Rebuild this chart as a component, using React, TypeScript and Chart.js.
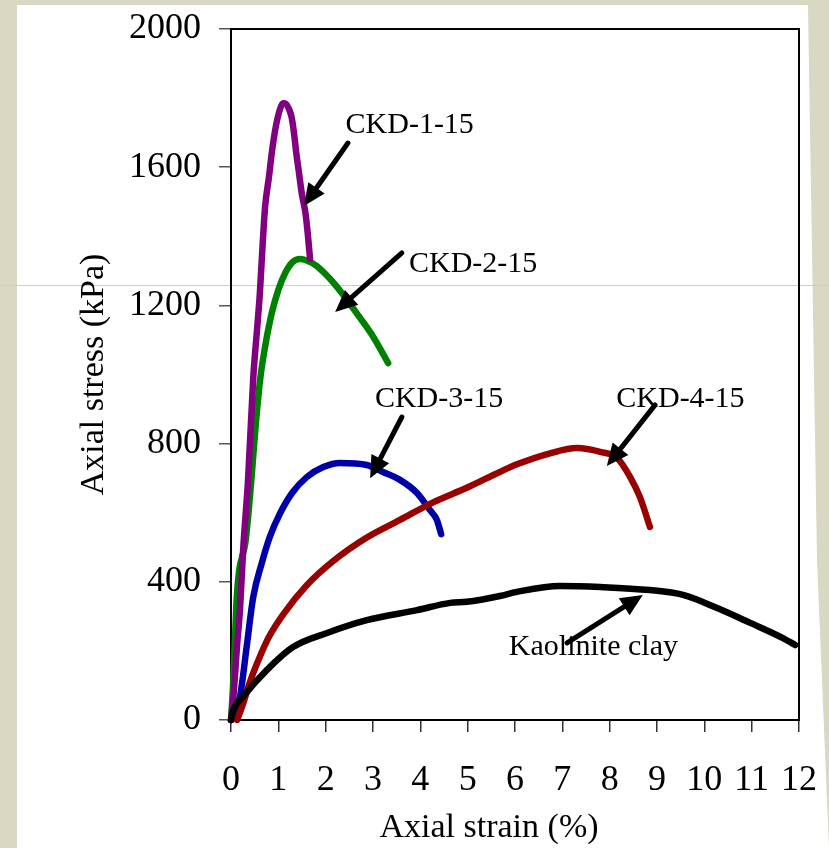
import React, { useEffect, useRef } from "react";
import { Chart, registerables } from "chart.js";

Chart.register(...registerables);

// ---- Data (strain %, stress kPa) ----
const ckd1Strain = [0, 0.04, 0.08, 0.13, 0.19, 0.26, 0.36, 0.47, 0.55, 0.61, 0.67, 0.72, 0.8, 0.87, 0.95, 1.04, 1.1, 1.16, 1.22, 1.28, 1.33, 1.38, 1.43, 1.5, 1.57, 1.62, 1.67];
const ckd1Stress = [0, 50, 120, 220, 320, 500, 695, 990, 1130, 1236, 1380, 1485, 1570, 1650, 1720, 1770, 1785, 1783, 1770, 1745, 1700, 1640, 1590, 1520, 1470, 1410, 1335];

const ckd2Strain = [0, 0.04, 0.08, 0.12, 0.17, 0.23, 0.3, 0.37, 0.43, 0.52, 0.62, 0.72, 0.86, 1.0, 1.15, 1.3, 1.46, 1.6, 1.8, 2.0, 2.2, 2.4, 2.6, 2.8, 3.0, 3.15, 3.32];
const ckd2Stress = [0, 90, 220, 350, 430, 470, 510, 600, 695, 850, 990, 1080, 1177, 1245, 1295, 1325, 1334, 1330, 1315, 1290, 1260, 1225, 1188, 1150, 1110, 1075, 1033];

const ckd3Strain = [0, 0.08, 0.19, 0.33, 0.47, 0.65, 0.82, 1.04, 1.29, 1.6, 1.95, 2.3, 2.87, 3.21, 3.57, 3.93, 4.2, 4.35, 4.44];
const ckd3Stress = [0, 20, 67, 211, 356, 454, 530, 599, 657, 703, 732, 744, 738, 718, 695, 657, 608, 579, 538];

const ckd4Strain = [0.13, 0.25, 0.4, 0.6, 0.8, 1.1, 1.6, 2.16, 2.87, 3.57, 4.27, 4.98, 5.68, 6.04, 6.74, 7.31, 7.8, 8.16, 8.43, 8.64, 8.85];
const ckd4Stress = [0, 45, 110, 180, 240, 305, 390, 460, 528, 579, 630, 672, 718, 740, 772, 787, 776, 758, 704, 645, 559];

const kaoStrain = [0, 0.05, 0.25, 0.76, 1.31, 2.03, 2.87, 3.93, 4.63, 4.98, 5.68, 6.04, 6.95, 7.8, 8.85, 9.55, 10.27, 10.97, 11.66, 11.92];
const kaoStress = [0, 29, 67, 145, 211, 252, 289, 318, 339, 342, 359, 371, 388, 385, 376, 362, 324, 281, 237, 217];

const xTicks = [0, 1, 2, 3, 4, 5, 6, 7, 8, 9, 10, 11, 12];
const yTicks = [0, 400, 800, 1200, 1600, 2000];

// Annotation labels: text, strain, stress (baseline-left anchor)
const labelTexts = ["CKD-1-15", "CKD-2-15", "CKD-3-15", "CKD-4-15", "Kaolinite clay"];
const labelStrain = [2.42, 3.76, 3.04, 8.14, 5.87];
const labelStress = [1699, 1297, 906, 906, 188];

// Arrows: tail -> tip (strain, stress)
const arrowTailStrain = [2.47, 3.61, 3.61, 8.96, 7.1];
const arrowTailStress = [1670, 1352, 877, 912, 223];
const arrowTipStrain = [1.54, 2.2, 2.94, 7.94, 8.7];
const arrowTipStress = [1488, 1181, 700, 735, 362];

const FONT = "'Liberation Serif', 'Times New Roman', serif";

const zip = (xs: number[], ys: number[]) => xs.map((x, i) => ({ x, y: ys[i] }));

const annotationPlugin = {
  id: "arrowsAndLabels",
  afterDatasetsDraw(chart: any) {
    const { ctx, scales } = chart;
    const xs = scales.x;
    const ys = scales.y;
    ctx.save();
    ctx.fillStyle = "#000";
    ctx.font = `30px ${FONT}`;
    ctx.textAlign = "left";
    ctx.textBaseline = "alphabetic";
    labelTexts.forEach((t, i) => {
      ctx.fillText(t, xs.getPixelForValue(labelStrain[i]), ys.getPixelForValue(labelStress[i]));
    });
    arrowTailStrain.forEach((_, i) => {
      const x1 = xs.getPixelForValue(arrowTailStrain[i]);
      const y1 = ys.getPixelForValue(arrowTailStress[i]);
      const x2 = xs.getPixelForValue(arrowTipStrain[i]);
      const y2 = ys.getPixelForValue(arrowTipStress[i]);
      const dx = x2 - x1;
      const dy = y2 - y1;
      const len = Math.hypot(dx, dy);
      const ux = dx / len;
      const uy = dy / len;
      const headLen = 22;
      const headHalf = 10;
      const bx = x2 - ux * headLen;
      const by = y2 - uy * headLen;
      ctx.strokeStyle = "#000";
      ctx.lineWidth = 5;
      ctx.lineCap = "round";
      ctx.beginPath();
      ctx.moveTo(x1, y1);
      ctx.lineTo(bx + ux * 2, by + uy * 2);
      ctx.stroke();
      ctx.beginPath();
      ctx.moveTo(x2, y2);
      ctx.lineTo(bx - uy * headHalf, by + ux * headHalf);
      ctx.lineTo(bx + uy * headHalf, by - ux * headHalf);
      ctx.closePath();
      ctx.fill();
    });
    ctx.restore();
  },
};

const framePlugin = {
  id: "frame",
  // the x-axis title sits left of the plot centre in the original figure
  afterLayout(chart: any) {
    const s = chart.scales.x;
    s.left -= 26;
    s.right -= 26;
  },
  beforeDatasetsDraw(chart: any) {
    const { ctx, chartArea } = chart;
    ctx.save();
    ctx.strokeStyle = "#000";
    ctx.lineWidth = 2;
    ctx.strokeRect(chartArea.left, chartArea.top, chartArea.right - chartArea.left, chartArea.bottom - chartArea.top);
    ctx.restore();
  },
};

export default function App() {
  const canvasRef = useRef<HTMLCanvasElement | null>(null);

  useEffect(() => {
    if (!canvasRef.current) return;
    const mk = (label: string, xs: number[], ys: number[], color: string) => ({
      label,
      data: zip(xs, ys),
      borderColor: color,
      backgroundColor: color,
      borderWidth: 6.5,
      pointRadius: 0,
      showLine: true,
      fill: false,
      clip: false as const,
      cubicInterpolationMode: "monotone" as const,
      borderCapStyle: "round" as const,
      borderJoinStyle: "round" as const,
    });
    const chart = new Chart(canvasRef.current, {
      type: "scatter",
      data: {
        datasets: [
          mk("Kaolinite clay", kaoStrain, kaoStress, "#000000"),
          mk("CKD-4-15", ckd4Strain, ckd4Stress, "#990000"),
          mk("CKD-3-15", ckd3Strain, ckd3Stress, "#0000A8"),
          mk("CKD-1-15", ckd1Strain, ckd1Stress, "#800080"),
          mk("CKD-2-15", ckd2Strain, ckd2Stress, "#008000"),
        ],
      },
      options: {
        responsive: false,
        animation: false,
        layout: { padding: { left: 0, right: 30, top: 29, bottom: 0 } },
        plugins: { legend: { display: false }, tooltip: { enabled: false } },
        scales: {
          x: {
            type: "linear",
            min: 0,
            max: 12,
            afterBuildTicks: (s: any) => {
              s.ticks = xTicks.map((v) => ({ value: v }));
            },
            afterFit: (s: any) => {
              s.height = 128;
              s.paddingLeft = 0;
              s.paddingRight = 0;
            },
            ticks: {
              color: "#000",
              font: { family: FONT, size: 36 },
              padding: 27,
              maxRotation: 0,
              autoSkip: false,
              callback: (v: any) => String(v),
            },
            grid: { drawOnChartArea: false, drawTicks: true, tickLength: 12, color: "#333", lineWidth: 1.5 },
            border: { display: false },
            title: {
              display: true,
              text: "Axial strain (%)",
              color: "#000",
              font: { family: FONT, size: 34 },
              padding: { top: 0, bottom: 0 },
            },
          },
          y: {
            type: "linear",
            min: 0,
            max: 2000,
            afterBuildTicks: (s: any) => {
              s.ticks = yTicks.map((v) => ({ value: v }));
            },
            afterFit: (s: any) => {
              s.width = 231;
              s.paddingTop = 0;
              s.paddingBottom = 0;
            },
            ticks: {
              color: "#000",
              font: { family: FONT, size: 36 },
              padding: 18,
              autoSkip: false,
              callback: (v: any) => String(v),
            },
            grid: { drawOnChartArea: false, drawTicks: true, tickLength: 12, color: "#555", lineWidth: 1.5 },
            border: { display: true, color: "#000", width: 2 },
            title: {
              display: true,
              text: "Axial stress (kPa)",
              color: "#000",
              font: { family: FONT, size: 34 },
              padding: { top: 74, bottom: 0 },
            },
          },
        },
      },
      plugins: [framePlugin, annotationPlugin],
    });
    return () => chart.destroy();
  }, []);

  return (
    <div style={{ position: "absolute", left: 0, top: 0, width: 829, height: 848, background: "#D9D8C3", overflow: "hidden" }}>
      <div
        style={{
          position: "absolute",
          left: 0,
          top: 0,
          width: 829,
          height: 848,
          background: "#FFFFFF",
          clipPath: "polygon(17px 5px, 808px 5px, 817px 560px, 827px 800px, 829px 848px, 17px 848px)",
        }}
      />
      <div style={{ position: "absolute", left: 0, top: 285, width: 829, height: 1, background: "#CFCEBB" }} />
      <canvas ref={canvasRef} width={829} height={848} style={{ position: "absolute", left: 0, top: 0 }} />
    </div>
  );
}
